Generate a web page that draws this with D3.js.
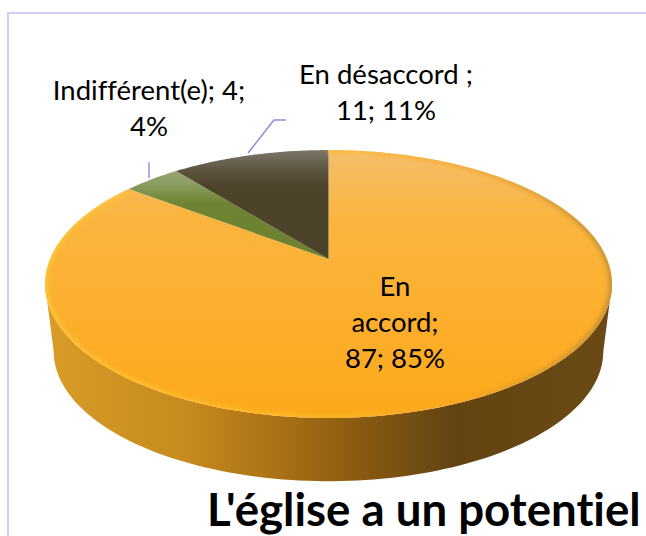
<!DOCTYPE html>
<html lang="fr">
<head>
<meta charset="utf-8">
<script src="https://d3js.org/d3.v7.min.js"></script>
<style>
body { margin: 0; background: #fff; }
text { font-family: Lato, "Open Sans", sans-serif; fill: #000; font-variant-ligatures: none; }
</style>
</head>
<body>
<script>
// data
const categories = ["En accord", "Indifférent(e)", "En désaccord"];
const values = [87, 4, 11];
const percents = ["85%", "4%", "11%"];
const title = "L'église a un potentiel";

const width = 646, height = 536;

// label lines, one list per slice
const labelLines = [
    ["En", "accord;", values[0] + "; " + percents[0]],
    [categories[1] + "; " + values[1] + ";", percents[1]],
    [categories[2] + " ;", values[2] + "; " + percents[2]]
];
const labelPos = [{x: 395, y: 296}, {x: 149, y: 100}, {x: 386, y: 84}];
const lineStep = 36;

const svg = d3.select("body").append("svg")
    .attr("width", width)
    .attr("height", height)
    .style("display", "block");

const defs = svg.append("defs");

function gradient(id, horizontal, stops) {
    const g = defs.append("linearGradient")
        .attr("id", id)
        .attr("gradientUnits", "userSpaceOnUse")
        .attr("x1", horizontal ? 45 : 0).attr("x2", horizontal ? 612 : 0)
        .attr("y1", horizontal ? 0 : 150).attr("y2", horizontal ? 0 : 418);
    stops.forEach(function(s) {
        g.append("stop").attr("offset", s[0]).attr("stop-color", s[1]);
    });
}

gradient("top0", false, [[0, "#f6be6c"], [0.25, "#fab53f"], [1, "#fda81b"]]);
gradient("top1", false, [[0, "#a3b085"], [0.12, "#8d9f64"], [0.2, "#6f8433"], [1, "#667a2a"]]);
gradient("top2", false, [[0, "#7d7769"], [0.07, "#5f5743"], [0.14, "#4d422a"], [1, "#4a3f27"]]);
gradient("side", true, [[0, "#d99c28"], [0.25, "#c68a1e"], [0.42, "#a86f15"], [0.55, "#8b5b11"], [0.72, "#624412"], [1, "#6b4a14"]]);
gradient("rim", true, [[0, "#ffcf3a"], [0.45, "#ffc02a"], [0.75, "#f4a526"], [1, "#a87e34"]]);

defs.append("filter").attr("id", "soft")
    .append("feGaussianBlur").attr("stdDeviation", 2.5);

// perspective of the tilted disc: the apex is not the middle of the ellipse
const tilt = 0.1866;
const topDisc = {cx: 328.5, cy: 259, rx: 278.5, ry: 129.3};
const bottomDisc = {cx: 328.5, cy: 327, rx: 270, ry: 125.4};

function project(disc, a) {
    const d = 1 + tilt * Math.cos(a);
    return [disc.cx + disc.rx * Math.sin(a) / d, disc.cy - disc.ry * Math.cos(a) / d];
}

function arcPoints(disc, a0, a1) {
    const n = Math.max(2, Math.ceil(Math.abs(a1 - a0) * 40));
    return d3.range(n + 1).map(function(i) {
        return project(disc, a0 + (a1 - a0) * i / n);
    });
}

const line = d3.line();
const pie = d3.pie().sort(null).value(function(d) { return d; });
const slices = pie(values);

// side wall, between the widest points of both discs
const aRight = Math.acos(-tilt);
const aLeft = 2 * Math.PI - aRight;
svg.append("path")
    .attr("d", line(arcPoints(topDisc, aRight, aLeft).concat(arcPoints(bottomDisc, aLeft, aRight))) + "Z")
    .attr("fill", "url(#side)");

// top face
const disc = arcPoints(topDisc, 0, 2 * Math.PI);
defs.append("clipPath").attr("id", "discClip")
    .append("path").attr("d", line(disc) + "Z");

const apex = [topDisc.cx, topDisc.cy];
svg.append("g").selectAll("path")
    .data(slices)
    .join("path")
    .attr("d", function(d) {
        return line([apex].concat(arcPoints(topDisc, d.startAngle, d.endAngle))) + "Z";
    })
    .attr("fill", function(d, i) { return "url(#top" + i + ")"; });

// soft bevel round the orange part
svg.append("g").attr("clip-path", "url(#discClip)")
    .append("path")
    .attr("d", line(arcPoints(topDisc, 0, slices[0].endAngle)))
    .attr("fill", "none")
    .attr("stroke", "url(#rim)")
    .attr("stroke-width", 5)
    .attr("stroke-opacity", 0.8)
    .attr("filter", "url(#soft)");

// frame
svg.append("path")
    .attr("d", "M8,536V13H646")
    .attr("fill", "none")
    .attr("stroke", "#d0cef2")
    .attr("stroke-width", 2);

// leader lines
const leaders = [
    [[149, 162], [149, 178]],
    [[248, 153], [274, 120], [286, 120]]
];
svg.append("g").selectAll("path")
    .data(leaders)
    .join("path")
    .attr("d", function(d) { return line(d); })
    .attr("fill", "none")
    .attr("stroke", "#8e88dc")
    .attr("stroke-width", 1.4);

// data labels
svg.append("g").selectAll("text")
    .data(labelLines)
    .join("text")
    .attr("text-anchor", "middle")
    .attr("font-size", 27.5)
    .each(function(d, i) {
        d3.select(this).selectAll("tspan")
            .data(d)
            .join("tspan")
            .attr("x", labelPos[i].x)
            .attr("y", function(t, j) { return labelPos[i].y + j * lineStep; })
            .text(function(t) { return t; });
    });

svg.append("text")
    .attr("x", 207)
    .attr("y", 526)
    .attr("font-size", 45.6)
    .attr("font-weight", 700)
    .text(title);
</script>
</body>
</html>
